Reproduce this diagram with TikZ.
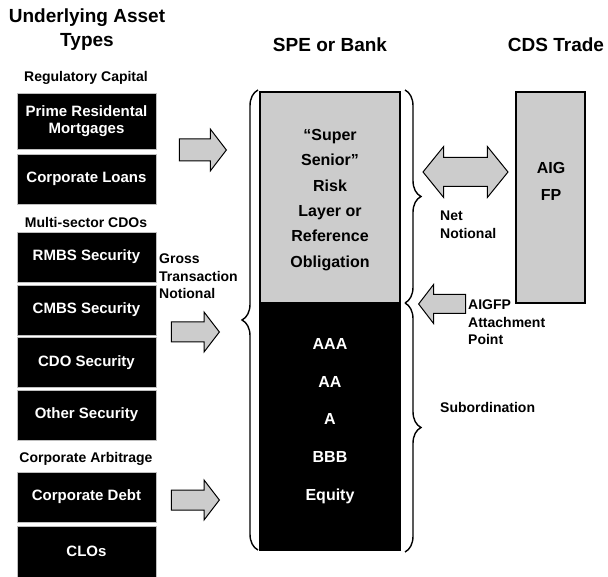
\documentclass[tikz,border=0pt]{standalone}
\usepackage{fontspec}
\setmainfont{Liberation Sans}
\usetikzlibrary{shapes,arrows,positioning,calc,decorations.pathreplacing,arrows.meta}

\tikzset{
    asset/.style={draw=gray!50, fill=black, text=white, minimum width=139pt, minimum height=50pt,
        align=center, inner sep=0pt, font=\bfseries\fontsize{15}{17}\selectfont},
    group/.style={font=\bfseries\fontsize{14}{16}\selectfont},
    header/.style={align=center, font=\bfseries\fontsize{19}{24}\selectfont},
    note/.style={align=left, inner sep=0pt, font=\bfseries\fontsize{14}{17.5}\selectfont},
    flow/.style={single arrow, draw, line width=1pt, fill=black!20, inner xsep=0pt, inner ysep=10pt,
        single arrow tip angle=105, single arrow head extend=10pt, minimum width=40pt, minimum height=47pt},
    tranche/.style={align=center, font=\bfseries\fontsize{16}{25.3}\selectfont},
    brace/.style={decorate, decoration={brace, amplitude=16pt}, line width=1.4pt}
}

\begin{document}
\begin{tikzpicture}[x=1pt, y=-1pt]
    \useasboundingbox (0,0) rectangle (608,577);

    % Headers
    \node[header] (hassets) at (87,30) {Underlying Asset\\Types};
    \node[header] (hspe) at (330,45) {SPE or Bank};
    \node[header] (hcds) at (556,45) {CDS Trade};

    % Underlying assets
    \node[group] (regcap) at (86,78) {Regulatory Capital};
    \node[asset, minimum height=56pt] (prime) at (86.5,121) {Prime Residental\\Mortgages};
    \node[asset] (loans) at (86.5,179) {Corporate Loans};
    \node[group] (multi) at (86,222) {Multi-sector CDOs};
    \node[asset] (rmbs) at (86.5,257) {RMBS Security};
    \node[asset] (cmbs) at (86.5,310) {CMBS Security};
    \node[asset] (cdo) at (86.5,362.5) {CDO Security};
    \node[asset] (other) at (86.5,415) {Other Security};
    \node[group] (corparb) at (86,459) {Corporate Arbitrage};
    \node[asset] (debt) at (86.5,497) {Corporate Debt};
    \node[asset, minimum height=51pt] (clos) at (86.5,551.5) {CLOs};

    % Flows into the SPE
    \node[flow, anchor=tip, inner ysep=10.5pt] (flowa) at (227,150) {};
    \node[flow, anchor=tip, inner ysep=9.5pt, minimum width=39pt, minimum height=48pt] (flowb) at (220,332) {};
    \node[flow, anchor=tip, inner ysep=9.5pt, minimum width=39pt, minimum height=48pt] (flowc) at (220,500) {};
    \node[note, anchor=north west] (gross) at (159,254) {Gross\\Transaction\\Notional};

    % SPE or Bank
    \draw[brace] (258,550) -- (258,90);
    \node[draw, line width=1.2pt, fill=black!20, minimum width=140pt, minimum height=211pt] (senior) at (330,197.5) {};
    \node[tranche] (seniortext) at (330,200) {``Super\\Senior''\\Risk\\Layer or\\Reference\\Obligation};
    \node[draw, line width=1.2pt, fill=black, minimum width=140pt, minimum height=247pt] (junior) at (330,426.5) {};
    \node[tranche, text=white, font=\bfseries\fontsize{16}{37.75}\selectfont] (ratings) at (330,421) {AAA\\AA\\A\\BBB\\Equity};

    % CDS trade
    \draw[brace] (405,90) -- (405,303);
    \draw[brace] (405,303) -- (405,552);
    \node[double arrow, draw, line width=1pt, fill=black!20, inner xsep=0pt, inner ysep=14pt, double arrow tip angle=102,
        double arrow head extend=11pt, minimum width=50pt, minimum height=85pt] (netarrow) at (465.5,172) {};
    \node[note, anchor=north west] (net) at (440,211) {Net\\Notional};
    \node[draw, line width=1.2pt, fill=black!20, minimum width=69pt, minimum height=211pt] (aigfp) at (550.5,197.5) {};
    \node[tranche, font=\bfseries\fontsize{16}{27}\selectfont] (aigtext) at (551,181.5) {AIG\\FP};
    \node[flow, anchor=tip, shape border rotate=180, inner ysep=9pt, minimum width=38pt] (attach) at (418,304) {};
    \node[note, anchor=north west] (attachtext) at (468,300) {AIGFP\\Attachment\\Point};
    \node[note, anchor=west] (subord) at (440,407) {Subordination};
\end{tikzpicture}
\end{document}
